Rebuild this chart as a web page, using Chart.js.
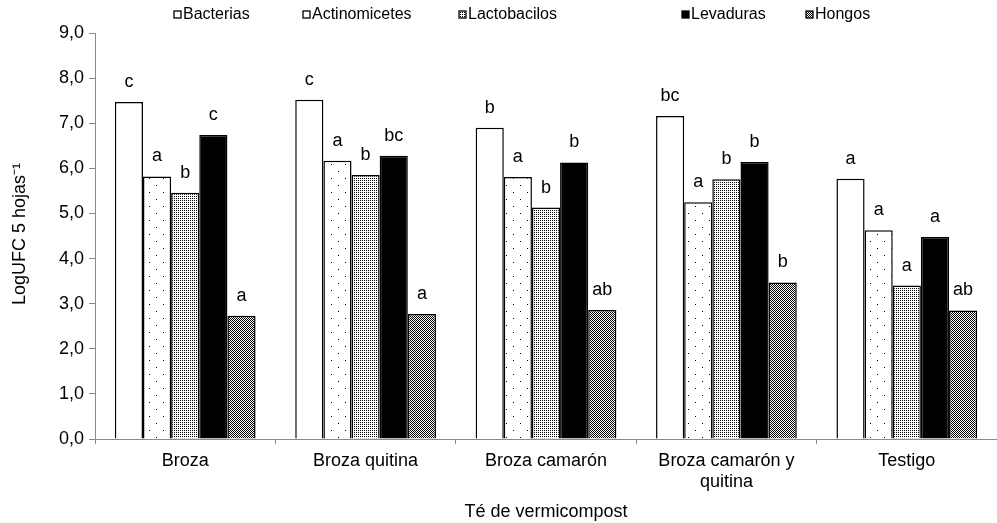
<!DOCTYPE html>
<html>
<head>
<meta charset="utf-8">
<script src="https://cdn.jsdelivr.net/npm/chart.js@4.4.1/dist/chart.umd.min.js"></script>
<style>
  html, body { margin: 0; padding: 0; background: #fff; }
  #wrap { width: 997px; height: 523px; }
</style>
</head>
<body>
<div id="wrap"><canvas id="grafico"></canvas></div>
<script>
// categorias del eje x
const categorias = ['Broza', 'Broza quitina', 'Broza camarón', ['Broza camarón y', 'quitina'], 'Testigo'];

// LogUFC
const bacterias      = [7.47, 7.52, 6.90, 7.16, 5.77];
const actinomicetes  = [5.82, 6.17, 5.81, 5.25, 4.63];
const lactobacilos   = [5.46, 5.85, 5.13, 5.76, 3.40];
const levaduras      = [6.74, 6.28, 6.13, 6.14, 4.48];
const hongos         = [2.73, 2.77, 2.86, 3.47, 2.85];

// letras de significancia
const letrasBacterias     = ['c', 'c', 'b', 'bc', 'a'];
const letrasActinomicetes = ['a', 'a', 'a', 'a', 'a'];
const letrasLactobacilos  = ['b', 'b', 'b', 'b', 'a'];
const letrasLevaduras     = ['c', 'bc', 'b', 'b', 'a'];
const letrasHongos        = ['a', 'a', 'ab', 'b', 'ab'];

const yTicks = [0, 1, 2, 3, 4, 5, 6, 7, 8, 9];

const FONT = '"Liberation Sans", Arial, sans-serif';
const GRIS = '#8a8a8a';

// patrones de relleno tipo excel
function patron(w, h, puntos) {
    const c = document.createElement('canvas');
    c.width = w; c.height = h;
    const g = c.getContext('2d');
    g.fillStyle = '#fff';
    g.fillRect(0, 0, w, h);
    g.fillStyle = '#000';
    puntos.forEach(p => g.fillRect(p[0], p[1], 1, 1));
    return g.createPattern(c, 'repeat');
}

const ctx = document.getElementById('grafico').getContext('2d');

const pBlanco  = '#ffffff';
const pPuntos  = patron(14, 14, [[2, 3], [9, 10]]);
const pFino    = patron(2, 2, [[0, 0]]);
const pCuadros = patron(2, 2, [[0, 0], [1, 1]]);
const pNegro   = '#000000';

const series = [
    { label: 'Bacterias',     data: bacterias,     letras: letrasBacterias,     fill: pBlanco },
    { label: 'Actinomicetes', data: actinomicetes, letras: letrasActinomicetes, fill: pPuntos },
    { label: 'Lactobacilos',  data: lactobacilos,  letras: letrasLactobacilos,  fill: pFino },
    { label: 'Levaduras',     data: levaduras,     letras: letrasLevaduras,     fill: pNegro },
    { label: 'Hongos',        data: hongos,        letras: letrasHongos,        fill: pCuadros }
];

const datasets = series.map(s => ({
    label: s.label,
    data: s.data,
    letras: s.letras,
    backgroundColor: s.fill,
    borderColor: '#000',
    borderWidth: 1.5,
    barPercentage: 1,
    categoryPercentage: 0.78
}));

// letras encima de las barras + leyenda + titulo eje y
const extras = {
    id: 'extras',
    afterDatasetsDraw(chart) {
        const c = chart.ctx;
        c.save();
        c.font = '18px ' + FONT;
        c.fillStyle = '#000';
        c.textAlign = 'center';
        c.textBaseline = 'middle';
        chart.data.datasets.forEach((ds, i) => {
            chart.getDatasetMeta(i).data.forEach((bar, j) => {
                c.fillText(ds.letras[j], bar.x, bar.y - 20);
            });
        });
        c.restore();
    },
    afterDraw(chart) {
        const c = chart.ctx;
        c.save();
        // leyenda
        const xs = [174, 303, 459, 682, 806];
        c.font = '16px ' + FONT;
        c.textBaseline = 'middle';
        c.textAlign = 'left';
        chart.data.datasets.forEach((ds, i) => {
            c.fillStyle = ds.backgroundColor;
            c.fillRect(xs[i], 11, 7, 7);
            c.strokeStyle = '#000';
            c.lineWidth = 1.3;
            c.strokeRect(xs[i], 11, 7, 7);
            c.fillStyle = '#000';
            c.fillText(ds.label, xs[i] + 9, 15);
        });
        // titulo eje y con superindice
        c.font = '18px ' + FONT;
        c.translate(20, 234);
        c.rotate(-Math.PI / 2);
        c.textAlign = 'center';
        c.fillText('LogUFC 5 hojas⁻¹', 0, 0);
        c.restore();
    }
};

new Chart(ctx, {
    type: 'bar',
    data: { labels: categorias, datasets: datasets },
    plugins: [extras],
    options: {
        responsive: true,
        maintainAspectRatio: false,
        animation: false,
        layout: { padding: { top: 33, right: 0, left: 0, bottom: 0 } },
        plugins: {
            legend: { display: false },
            tooltip: { enabled: false }
        },
        scales: {
            x: {
                grid: { display: true, drawOnChartArea: false, offset: true, color: GRIS, tickLength: 5 },
                border: { color: GRIS, width: 1 },
                ticks: { color: '#000', font: { family: FONT, size: 18 }, padding: 6, maxRotation: 0 },
                title: { display: true, text: 'Té de vermicompost', color: '#000', font: { family: FONT, size: 18 }, padding: { top: 0, bottom: 0 } },
                afterFit(scale) { scale.height = 84; }
            },
            y: {
                min: 0,
                max: 9,
                afterBuildTicks(scale) { scale.ticks = yTicks.map(v => ({ value: v })); },
                grid: { display: true, drawOnChartArea: false, color: GRIS, tickLength: 6 },
                border: { color: GRIS, width: 1 },
                ticks: {
                    color: '#000',
                    font: { family: FONT, size: 18 },
                    padding: 5,
                    callback: v => v.toFixed(1).replace('.', ',')
                },
                afterFit(scale) { scale.width = 95; }
            }
        }
    }
});
</script>
</body>
</html>
